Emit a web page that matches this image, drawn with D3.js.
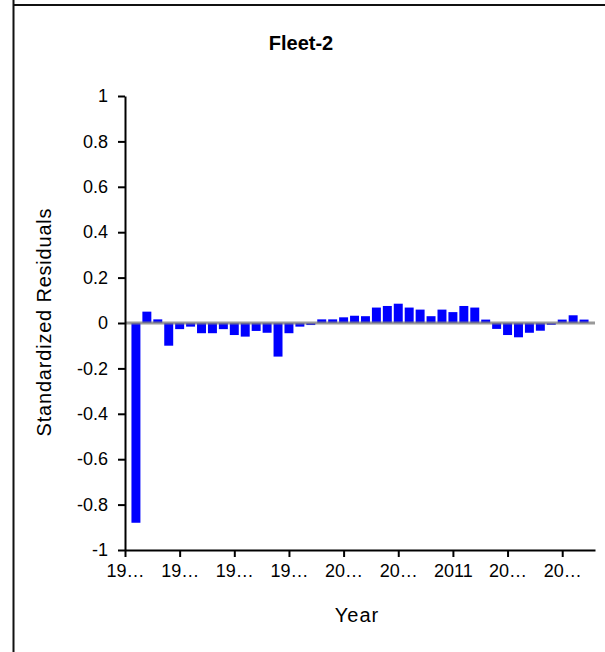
<!DOCTYPE html>
<html>
<head>
<meta charset="utf-8">
<script src="https://cdn.jsdelivr.net/npm/d3@7"></script>
<style>
  html, body { margin: 0; padding: 0; background: #fff; }
  svg { display: block; }
  text { font-family: "Liberation Sans", Arial, sans-serif; fill: #000; }
</style>
</head>
<body>
<svg id="chart" width="605" height="652"></svg>
<script>
const years = d3.range(1982, 2024);
const residuals = [
  -0.88, 0.05, 0.016, -0.10, -0.027, -0.016, -0.045, -0.045, -0.027, -0.053,
  -0.06, -0.035, -0.043, -0.148, -0.045, -0.016, -0.009, 0.016, 0.016, 0.025,
  0.032, 0.03, 0.068, 0.075, 0.085, 0.068, 0.059, 0.03, 0.059, 0.048,
  0.075, 0.068, 0.015, -0.026, -0.053, -0.063, -0.043, -0.034, -0.008, 0.015,
  0.034, 0.015
];
const xTickValues = [1981, 1986, 1991, 1996, 2001, 2006, 2011, 2016, 2021];
const xTickLabels = ["19…", "19…", "19…", "19…", "20…", "20…", "2011", "20…", "20…"];
const yTickValues = [1, 0.8, 0.6, 0.4, 0.2, 0, -0.2, -0.4, -0.6, -0.8, -1];
const title = "Fleet-2";
const xTitle = "Year";
const yTitle = "Standardized Residuals";

const svg = d3.select("#chart");
const FONT = '"Liberation Sans", Arial, sans-serif';

// frame
svg.append("line").attr("x1", 13.5).attr("x2", 13.5).attr("y1", 0).attr("y2", 652)
  .attr("stroke", "#111").attr("stroke-width", 2);
svg.append("line").attr("x1", 13).attr("x2", 605).attr("y1", 5).attr("y2", 5)
  .attr("stroke", "#111").attr("stroke-width", 2);

const x = d3.scaleLinear().domain([1981, 2024]).range([125, 595]);
const y = d3.scaleLinear().domain([-1, 1]).range([550, 96]);
const step = x(1982) - x(1981);
const bw = step * 0.82;

// bars
svg.append("g").selectAll("rect").data(years).join("rect")
  .attr("x", (d) => x(d) - bw / 2)
  .attr("width", bw)
  .attr("y", (d, i) => y(Math.max(0, residuals[i])))
  .attr("height", (d, i) => Math.abs(y(residuals[i]) - y(0)))
  .attr("fill", "#0000ff");

// zero line
svg.append("line").attr("x1", x(1981)).attr("x2", x(2024))
  .attr("y1", y(0)).attr("y2", y(0))
  .attr("stroke", "#808080").attr("stroke-opacity", 0.8).attr("stroke-width", 3);

// axes
const yAxis = d3.axisLeft(y).tickValues(yTickValues).tickSize(7).tickSizeOuter(0).tickPadding(10)
  .tickFormat((d) => String(d));
const gy = svg.append("g").attr("transform", `translate(${x(1981)},0)`).call(yAxis);
gy.select(".domain").attr("stroke", "#000").attr("stroke-width", 2);
gy.selectAll(".tick line").attr("stroke", "#000").attr("stroke-width", 2);
gy.selectAll(".tick text").style("font-size", "18px").style("font-family", FONT);

const xAxis = d3.axisBottom(x).tickValues(xTickValues).tickSize(7).tickSizeOuter(0).tickPadding(7)
  .tickFormat((d, i) => xTickLabels[i]);
const gx = svg.append("g").attr("transform", `translate(0,${y(-1)})`).call(xAxis);
gx.select(".domain").attr("stroke", "#000").attr("stroke-width", 2);
gx.selectAll(".tick line").attr("stroke", "#000").attr("stroke-width", 2);
gx.selectAll(".tick text").style("font-size", "18px").style("font-family", FONT);

// titles
svg.append("text").attr("x", 301).attr("y", 50).attr("text-anchor", "middle")
  .style("font-size", "20px").attr("font-weight", "bold").text(title);
svg.append("text").attr("x", 357).attr("y", 622).attr("text-anchor", "middle")
  .style("font-size", "20px").style("letter-spacing", "1px").text(xTitle);
svg.append("text").attr("transform", "translate(51,322) rotate(-90)")
  .attr("text-anchor", "middle").style("font-size", "20px").style("letter-spacing", "0.8px").text(yTitle);
</script>
</body>
</html>
